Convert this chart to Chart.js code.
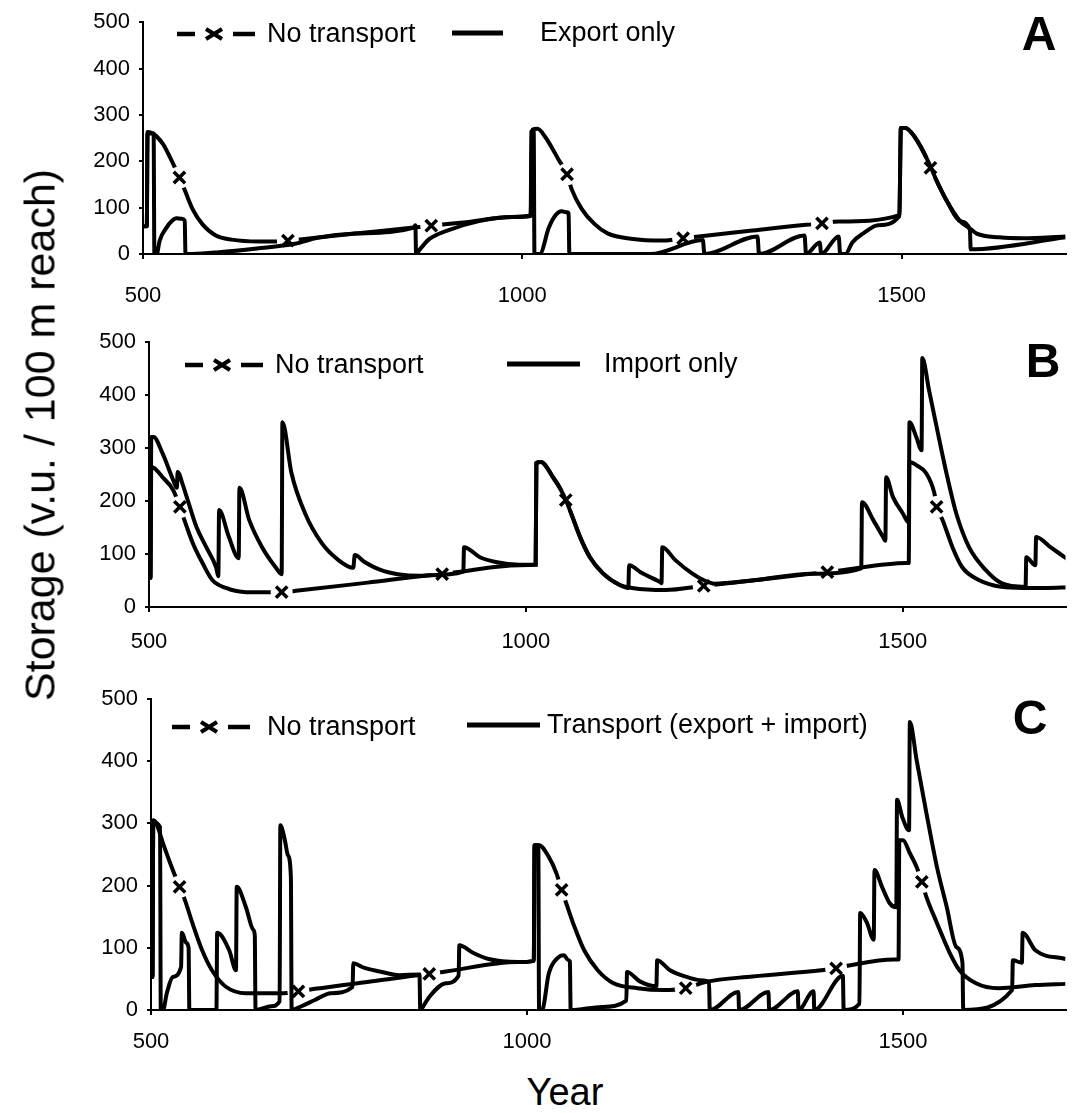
<!DOCTYPE html>
<html>
<head>
<meta charset="utf-8">
<script src="https://cdn.jsdelivr.net/npm/chart.js@4.4.1/dist/chart.umd.min.js"></script>
<style>
  html, body { margin: 0; padding: 0; background: #fff; }
  #wrap { position: relative; width: 1077px; height: 1113px; overflow: hidden; background: #fff; }
  #wrap canvas { position: absolute; left: 0; }
  .ytitle {
    position: absolute; left: 40px; top: 435px;
    transform: translate(-50%, -50%) rotate(-90deg);
    font: 43px "Liberation Sans", Arial, sans-serif; white-space: nowrap; color: #000;
  }
  .xtitle {
    position: absolute; left: 565px; top: 1092px;
    transform: translate(-50%, -50%);
    font: 38px "Liberation Sans", Arial, sans-serif; color: #000;
  }
</style>
</head>
<body>
<div id="wrap">
  <canvas id="panelA" width="1077" height="320" style="top:0px"></canvas>
  <canvas id="panelB" width="1077" height="345" style="top:320px"></canvas>
  <canvas id="panelC" width="1077" height="400" style="top:665px"></canvas>
  <div class="ytitle">Storage (v.u. / 100 m reach)</div>
  <div class="xtitle">Year</div>
</div>
<script>
// axis ticks
const xTickValues = [500, 1000, 1500];
const yTickValues = [0, 100, 200, 300, 400, 500];
const X_MIN = 500, X_MAX = 1716;

const labelNoTransport = 'No transport';
const labelsOther = ['Export only', 'Import only', 'Transport (export + import)'];
const panelLetters = ['A', 'B', 'C'];

// --- panel A : no transport vs export only  [year, storage]
const noTransportA = [
  [500,60],[505,60],[506,263],[513,260],[526,238],[539,197],[548,165],[555,138],[565,98],[578,65],
  [596,40],[617,31],[652,27],[674,27],[691,29],[704,31],[780,44],[857,57],[880,61],[922,68],
  [987,80],[1011,82],[1013,268],[1020,270],[1030,253],[1048,203],[1059,172],[1065,140],[1078,98],
  [1095,65],[1113,44],[1143,33],[1186,29],[1212,34],[1300,50],[1374,63],[1395,66],[1417,70],
  [1497,84],[1499,272],[1505,272],[1517,253],[1534,203],[1538,186],[1547,155],[1560,113],
  [1577,71],[1590,55],[1599,44],[1629,36],[1660,34],[1716,38]
];
const exportA = [
  [500,60],[505,60],[506,260],[514,260],[515,0],[518,0],[522,29],[531,57],[538,71],[544,77],
  [551,76],[555,72],[556,0],[600,4],[650,12],[700,22],[730,35],[780,44],[857,57],[859,62],
  [860,0],[865,10],[878,33],[900,50],[943,71],[987,80],[1011,83],[1012,265],[1015,265],[1016,0],
  [1023,0],[1035,57],[1043,82],[1052,92],[1059,90],[1061,88],[1062,0],[1169,0],[1238,30],[1240,0],
  [1310,38],[1312,0],[1372,40],[1374,0],[1392,25],[1394,0],[1417,38],[1419,0],[1426,0],[1435,25],
  [1450,45],[1469,62],[1497,82],[1499,272],[1505,272],[1517,253],[1534,203],[1547,155],[1560,113],
  [1577,71],[1590,52],[1591,10],[1716,36]
];
const marksA = [[548,165],[691,29],[880,61],[1059,172],[1212,34],[1395,66],[1538,186]];

// --- panel B : no transport vs import only
const noTransportB = [
  [500,55],[502,55],[503,264],[507,262],[518,245],[532,221],[541,189],[547,164],[558,121],[571,83],
  [584,51],[602,36],[629,28],[655,28],[676,28],[698,31],[790,46],[873,60],[889,62],[905,65],
  [991,79],[1013,80],[1014,272],[1020,274],[1036,245],[1045,225],[1053,202],[1060,177],[1072,132],
  [1085,94],[1102,64],[1124,42],[1141,36],[1185,32],[1236,40],[1300,50],[1380,63],[1400,66],
  [1417,69],[1505,83],[1508,83],[1509,274],[1518,268],[1531,253],[1542,215],[1545,189],[1553,164],
  [1566,113],[1579,75],[1601,51],[1631,38],[1660,36],[1693,36],[1719,37]
];
const importB = [
  [500,55],[502,55],[503,321],[506,321],[518,290],[532,240],[537,225],[538,255],[545,230],[550,208],
  [563,151],[576,113],[589,75],[592,58],[593,183],[606,132],[619,92],[620,225],[633,164],[650,113],
  [668,75],[676,62],[677,349],[689,253],[707,177],[729,121],[751,89],[771,74],[773,98],[786,85],
  [807,70],[830,62],[860,59],[873,60],[917,67],[918,113],[939,94],[960,85],[991,80],[1013,80],
  [1014,272],[1020,274],[1036,245],[1045,225],[1053,202],[1060,177],[1072,132],[1085,94],[1102,64],
  [1124,42],[1136,36],[1137,79],[1154,64],[1178,47],[1180,45],[1181,113],[1198,89],[1220,64],
  [1237,50],[1250,44],[1300,50],[1380,63],[1445,73],[1446,198],[1461,164],[1474,132],[1477,125],
  [1478,245],[1487,208],[1500,177],[1508,160],[1509,349],[1518,321],[1525,296],[1526,470],
  [1535,409],[1545,340],[1558,253],[1571,177],[1588,113],[1610,70],[1631,45],[1663,38],[1664,94],
  [1676,79],[1677,132],[1696,113],[1719,90]
];
const marksB = [[541,189],[676,28],[889,62],[1053,202],[1236,40],[1400,66],[1545,189]];

// --- panel C : no transport vs transport (export + import)
const noTransportC = [
  [500,53],[502,53],[503,305],[507,300],[516,268],[529,225],[538,198],[545,177],[555,140],[568,96],
  [581,64],[600,37],[626,27],[673,27],[696,30],[718,34],[800,47],[862,57],[870,58],[892,62],
  [988,77],[1009,79],[1010,265],[1016,265],[1029,246],[1039,220],[1046,193],[1052,172],[1063,134],
  [1076,96],[1094,64],[1115,43],[1147,35],[1181,32],[1211,35],[1237,45],[1300,54],[1391,64],
  [1411,67],[1430,72],[1488,81],[1494,81],[1495,273],[1500,273],[1509,252],[1518,230],[1525,206],
  [1531,182],[1545,140],[1562,92],[1575,64],[1597,43],[1627,35],[1676,40],[1716,42]
];
const transportC = [
  [500,53],[502,53],[503,302],[512,294],[513,0],[516,0],[521,27],[529,53],[540,69],[541,124],
  [547,108],[550,100],[551,0],[587,0],[588,124],[604,96],[613,64],[614,198],[626,166],[636,129],
  [638,120],[639,0],[660,6],[671,14],[672,297],[678,273],[682,249],[686,214],[687,0],[700,6],
  [718,16],[739,27],[768,37],[769,75],[783,68],[804,62],[830,56],[857,57],[858,0],[864,10],
  [870,21],[892,43],[909,55],[910,104],[928,92],[949,82],[988,77],[1009,79],[1010,265],[1015,265],
  [1016,0],[1020,0],[1029,59],[1042,85],[1049,88],[1055,80],[1057,78],[1058,0],[1100,5],[1132,15],
  [1133,61],[1150,46],[1172,38],[1173,80],[1190,64],[1210,54],[1230,48],[1242,45],[1243,0],
  [1281,29],[1282,0],[1321,29],[1322,0],[1360,30],[1361,0],[1381,30],[1382,0],[1420,55],[1421,0],
  [1442,10],[1443,156],[1452,140],[1461,113],[1462,225],[1472,198],[1482,172],[1491,165],
  [1492,338],[1499,310],[1508,289],[1509,463],[1518,402],[1531,317],[1545,230],[1558,166],
  [1571,101],[1579,76],[1580,0],[1645,32],[1646,80],[1658,76],[1659,124],[1676,96],[1716,82]
];
const marksC = [[538,198],[696,30],[870,58],[1046,193],[1211,35],[1411,67],[1525,206]];

const FONT = '"Liberation Sans", Arial, Helvetica, sans-serif';
const GAP_R = 11;

const toXY = arr => arr.map(([x, y]) => ({ x, y }));

// cut holes in the "no transport" line around its x markers
const markerGaps = {
  id: 'markerGaps',
  beforeDatasetDraw(chart, args) {
    const ds = chart.data.datasets[args.index];
    if (!ds.gapAt) return;
    const { ctx, scales: { x, y } } = chart;
    ctx.save();
    ctx.beginPath();
    ctx.rect(0, 0, chart.width, chart.height);
    ds.gapAt.forEach(([yr, v]) => {
      const px = x.getPixelForValue(yr), py = y.getPixelForValue(v);
      ctx.moveTo(px + GAP_R, py);
      ctx.arc(px, py, GAP_R, 0, Math.PI * 2);
    });
    ctx.clip('evenodd');
  },
  afterDatasetDraw(chart, args) {
    if (chart.data.datasets[args.index].gapAt) chart.ctx.restore();
  }
};

// legend keys + panel letter
const panelDecor = {
  id: 'panelDecor',
  afterDraw(chart, args, o) {
    const ctx = chart.ctx;
    const dsets = chart.data.datasets;
    ctx.save();
    ctx.strokeStyle = '#000';
    ctx.fillStyle = '#000';
    ctx.lineCap = 'butt';

    // - x - key
    const k = o.nt;
    ctx.lineWidth = 4.5;
    ctx.beginPath();
    ctx.moveTo(k.x, k.y); ctx.lineTo(k.x + 18, k.y);
    ctx.moveTo(k.x + 56, k.y); ctx.lineTo(k.x + 78, k.y);
    ctx.stroke();
    ctx.lineWidth = 4;
    const cx = k.x + 37;
    ctx.beginPath();
    ctx.moveTo(cx - 8, k.y - 5); ctx.lineTo(cx + 8, k.y + 5);
    ctx.moveTo(cx - 8, k.y + 5); ctx.lineTo(cx + 8, k.y - 5);
    ctx.stroke();

    ctx.font = '27px ' + FONT;
    ctx.textBaseline = 'middle';
    ctx.textAlign = 'left';
    ctx.fillText(dsets[1].label, k.textX, k.y + 1);

    // solid key
    const s = o.other;
    ctx.lineWidth = 5;
    ctx.beginPath();
    ctx.moveTo(s.x0, s.y); ctx.lineTo(s.x1, s.y);
    ctx.stroke();
    ctx.fillText(dsets[2].label, s.textX, s.y + 1);

    ctx.font = 'bold 48px ' + FONT;
    ctx.textAlign = 'center';
    ctx.fillText(o.letter, o.letterX, o.letterY);
    ctx.restore();
  }
};

function makePanel(id, nt, other, otherLabel, marks, cfg) {
  const canvas = document.getElementById(id);
  const H = canvas.height;
  return new Chart(canvas, {
    type: 'line',
    data: {
      datasets: [
        {
          type: 'scatter',
          label: 'markers',
          data: toXY(marks),
          showLine: false,
          pointStyle: 'crossRot',
          pointRadius: 8,
          pointBorderWidth: 3.5,
          pointBorderColor: '#000',
          pointBackgroundColor: '#000'
        },
        {
          label: labelNoTransport,
          data: toXY(nt),
          gapAt: marks,
          borderColor: '#000',
          borderWidth: 4,
          pointRadius: 0,
          cubicInterpolationMode: 'monotone'
        },
        {
          label: otherLabel,
          data: toXY(other),
          borderColor: '#000',
          borderWidth: 4,
          pointRadius: 0,
          cubicInterpolationMode: 'monotone'
        }
      ]
    },
    options: {
      responsive: false,
      animation: false,
      events: [],
      layout: { padding: { top: cfg.top, left: 0, right: 0, bottom: 0 } },
      plugins: {
        legend: { display: false },
        tooltip: { enabled: false },
        panelDecor: cfg.decor
      },
      scales: {
        x: {
          type: 'linear',
          min: X_MIN,
          max: X_MAX,
          afterBuildTicks: sc => { sc.ticks = xTickValues.map(v => ({ value: v })); },
          afterFit: sc => { sc.height = H - cfg.bottom; },
          border: { color: '#000', width: 2 },
          grid: { drawOnChartArea: false, color: '#000', lineWidth: 2, tickLength: 5 },
          ticks: {
            color: '#000', font: { family: FONT, size: 22 }, padding: cfg.xPad, maxRotation: 0,
            callback: v => String(v)
          }
        },
        y: {
          min: 0,
          max: 500,
          afterBuildTicks: sc => { sc.ticks = yTickValues.map(v => ({ value: v })); },
          afterFit: sc => { sc.width = cfg.left; },
          border: { color: '#000', width: 2 },
          grid: { drawOnChartArea: false, color: '#000', lineWidth: 2, tickLength: 4 },
          ticks: { color: '#000', font: { family: FONT, size: 22 }, padding: 9, callback: v => String(v) }
        }
      }
    },
    plugins: [markerGaps, panelDecor]
  });
}

makePanel('panelA', noTransportA, exportA, labelsOther[0], marksA, {
  top: 15, bottom: 254, left: 143, xPad: 24,
  decor: { nt: { x: 177, y: 34, textX: 267 }, other: { x0: 452, x1: 503, y: 33, textX: 540 },
           letter: panelLetters[0], letterX: 1039, letterY: 37 }
});
makePanel('panelB', noTransportB, importB, labelsOther[1], marksB, {
  top: 22, bottom: 287, left: 149, xPad: 17,
  decor: { nt: { x: 185, y: 45, textX: 275 }, other: { x0: 507, x1: 580, y: 44, textX: 604 },
           letter: panelLetters[1], letterX: 1043, letterY: 44 }
});
makePanel('panelC', noTransportC, transportC, labelsOther[2], marksC, {
  top: 34, bottom: 345, left: 151, xPad: 14,
  decor: { nt: { x: 172, y: 62, textX: 267 }, other: { x0: 467, x1: 540, y: 60, textX: 547 },
           letter: panelLetters[2], letterX: 1030, letterY: 56 }
});
</script>
</body>
</html>
